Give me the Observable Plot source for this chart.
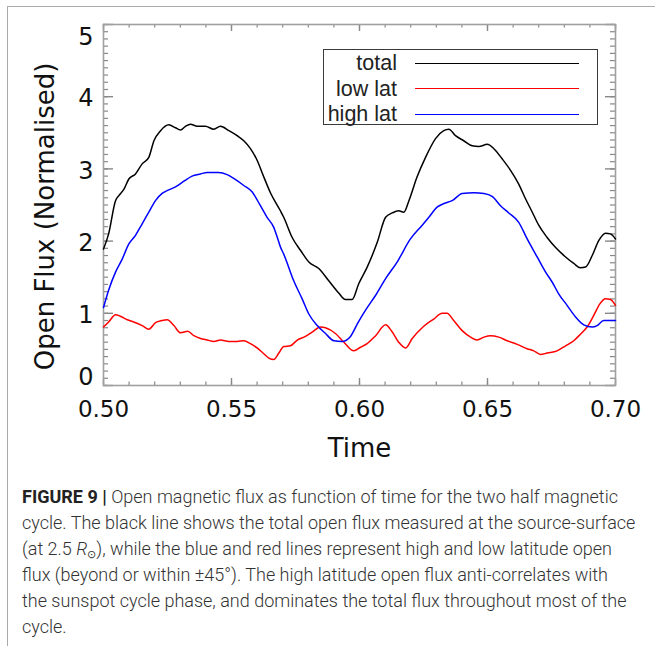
<!DOCTYPE html>
<html>
<head>
<meta charset="utf-8">
<script src="https://cdn.jsdelivr.net/npm/d3@7"></script>
<script src="https://cdn.jsdelivr.net/npm/@observablehq/plot@0.6"></script>
<style>
  html, body { margin: 0; padding: 0; background: #fff; }
  #page { position: relative; width: 655px; height: 646px; overflow: hidden; }
  #border { position: absolute; left: 7px; top: 6px; right: -10px; bottom: -10px;
            border-left: 1.5px solid #aaa; border-top: 1.5px solid #aaa; }
  #chart { position: absolute; left: 0; top: 0; }
  #legend { position: absolute; left: 323px; top: 49px; width: 275px; height: 76px;
            border-width: 1.5px; border-style: solid; border-color: #3a3a3a; box-sizing: border-box; background: transparent; }
  .lrow { position: absolute; left: 0; height: 24px; width: 100%; }
  .lname { position: absolute; right: 200px; top: 0; line-height: 24px; font-family: "Liberation Sans", Arial, sans-serif;
           font-size: 21.5px; color: #222; white-space: nowrap; }
  .lline { position: absolute; left: 91px; width: 164px; top: 11.5px; height: 1.3px; }
  #caption { position: absolute; left: 22px; top: 484px; font-family: "Roboto", "Liberation Sans", sans-serif;
             font-weight: 300; font-size: 18px; line-height: 26px; color: #333; white-space: nowrap; }
  #caption b { font-weight: 700; color: #222; }
  #caption sub { font-size: 11px; vertical-align: -3px; line-height: 0; }
</style>
</head>
<body>
<div id="page">
  <div id="border"></div>
  <div id="chart"></div>
  <div id="legend"></div>
  <div id="caption"></div>
</div>
<script>
// ---- data ----
const seriesNames = ["total", "low lat", "high lat"];
const seriesColors = ["#000000", "#ff0000", "#0000ff"];

const totalT = [0.5000,0.5020,0.5047,0.5060,0.5080,0.5099,0.5125,0.5151,0.5177,0.5197,0.5223,0.5255,0.5281,0.5301,0.5320,0.5340,0.5366,0.5398,0.5431,0.5457,0.5490,0.5522,0.5548,0.5574,0.5600,0.5626,0.5652,0.5691,0.5704,0.5737,0.5770,0.5802,0.5841,0.5880,0.5919,0.5945,0.5971,0.5997,0.6030,0.6069,0.6102,0.6128,0.6153,0.6173,0.6193,0.6225,0.6258,0.6297,0.6329,0.6349,0.6375,0.6407,0.6440,0.6466,0.6499,0.6525,0.6557,0.6590,0.6622,0.6648,0.6675,0.6700,0.6733,0.6766,0.6805,0.6837,0.6863,0.6883,0.6909,0.6935,0.6961,0.6980,0.7000];
const totalV = [1.89,2.10,2.56,2.63,2.72,2.86,2.93,3.07,3.16,3.39,3.53,3.61,3.57,3.54,3.59,3.62,3.59,3.59,3.55,3.59,3.53,3.46,3.39,3.28,3.12,2.89,2.67,2.42,2.33,2.05,1.87,1.71,1.62,1.45,1.28,1.19,1.19,1.41,1.64,1.98,2.33,2.39,2.42,2.40,2.56,2.89,3.16,3.42,3.53,3.55,3.46,3.39,3.32,3.31,3.34,3.28,3.14,2.98,2.79,2.59,2.40,2.22,2.05,1.91,1.78,1.69,1.63,1.64,1.80,2.01,2.11,2.10,2.03];

const lowT = [0.5000,0.5020,0.5047,0.5066,0.5093,0.5118,0.5151,0.5177,0.5203,0.5229,0.5249,0.5275,0.5301,0.5329,0.5353,0.5379,0.5405,0.5431,0.5457,0.5490,0.5522,0.5548,0.5574,0.5600,0.5626,0.5646,0.5665,0.5685,0.5704,0.5730,0.5757,0.5789,0.5815,0.5848,0.5867,0.5906,0.5939,0.5978,0.6004,0.6030,0.6063,0.6102,0.6128,0.6153,0.6180,0.6206,0.6251,0.6290,0.6323,0.6342,0.6368,0.6401,0.6434,0.6460,0.6486,0.6512,0.6544,0.6577,0.6616,0.6655,0.6681,0.6707,0.6733,0.6772,0.6805,0.6837,0.6863,0.6889,0.6915,0.6939,0.6961,0.6980,0.7000];
const lowV = [0.81,0.88,0.98,0.96,0.91,0.88,0.83,0.78,0.87,0.90,0.91,0.83,0.73,0.75,0.69,0.65,0.63,0.61,0.63,0.61,0.61,0.62,0.58,0.52,0.44,0.38,0.36,0.45,0.54,0.55,0.63,0.68,0.74,0.81,0.80,0.72,0.60,0.48,0.53,0.58,0.69,0.84,0.74,0.60,0.52,0.65,0.82,0.92,1.00,1.00,0.90,0.76,0.67,0.63,0.67,0.69,0.67,0.62,0.57,0.51,0.48,0.43,0.45,0.48,0.55,0.62,0.71,0.81,0.97,1.13,1.20,1.19,1.11];

const highT = [0.5000,0.5020,0.5047,0.5073,0.5099,0.5125,0.5151,0.5177,0.5203,0.5229,0.5255,0.5281,0.5314,0.5346,0.5379,0.5405,0.5450,0.5483,0.5516,0.5548,0.5581,0.5613,0.5639,0.5665,0.5679,0.5691,0.5704,0.5743,0.5776,0.5802,0.5835,0.5867,0.5900,0.5932,0.5965,0.5991,0.6023,0.6063,0.6102,0.6147,0.6199,0.6245,0.6271,0.6303,0.6330,0.6362,0.6401,0.6447,0.6486,0.6518,0.6551,0.6583,0.6622,0.6655,0.6694,0.6727,0.6753,0.6778,0.6811,0.6844,0.6876,0.6909,0.6928,0.6954,0.7000];
const highV = [1.08,1.32,1.57,1.75,1.96,2.08,2.24,2.40,2.56,2.66,2.71,2.75,2.83,2.90,2.93,2.95,2.95,2.92,2.85,2.77,2.68,2.49,2.33,2.19,2.05,1.92,1.82,1.45,1.20,0.99,0.83,0.72,0.62,0.61,0.68,0.85,1.04,1.25,1.48,1.71,2.03,2.22,2.33,2.47,2.52,2.56,2.66,2.67,2.66,2.62,2.49,2.39,2.26,2.03,1.78,1.57,1.43,1.27,1.11,0.95,0.84,0.81,0.83,0.90,0.90];

const xTickValues = [0.50, 0.55, 0.60, 0.65, 0.70];
const yTickValues = [0, 1, 2, 3, 4, 5];
const xLabel = "Time";
const yLabel = "Open Flux (Normalised)";

const captionLines = [
  "<b>FIGURE 9 |</b> Open magnetic flux as function of time for the two half magnetic",
  "cycle. The black line shows the total open flux measured at the source-surface",
  "(at 2.5 <i>R</i><sub>&#8857;</sub>), while the blue and red lines represent high and low latitude open",
  "flux (beyond or within \u00b145\u00b0). The high latitude open flux anti-correlates with",
  "the sunspot cycle phase, and dominates the total flux throughout most of the",
  "cycle."
];

// ---- build ----
const toRows = (T, V) => T.map((t, i) => ({t, v: V[i]}));
const series = [toRows(totalT, totalV), toRows(lowT, lowV), toRows(highT, highV)];

const W = 655, H = 470, mL = 103, mR = 40, mT = 24, mB = 85;
const plotW = W - mL - mR, plotH = H - mT - mB;
const xMinor = d3.range(0.50, 0.7001, 0.01);
const yMinor = d3.range(0, 5.0001, 0.1);
const tickColor = "#888";
const font = "DejaVu Sans";
const yFmt = d3.format("d");

const chart = Plot.plot({
  width: W, height: H,
  marginLeft: mL, marginRight: mR, marginTop: mT, marginBottom: mB,
  x: {domain: [0.5, 0.7]},
  y: {domain: [0, 5]},
  style: {background: "transparent", fontFamily: font, color: "#111"},
  marks: [
    // inward minor / major ticks on all four sides
    Plot.tickX(xMinor, {x: d => d, insetTop: plotH - 3.5, stroke: tickColor, strokeWidth: 1.2}),
    Plot.tickX(xTickValues, {x: d => d, insetTop: plotH - 7, stroke: tickColor, strokeWidth: 1.4}),
    Plot.tickX(xMinor, {x: d => d, insetBottom: plotH - 3.5, stroke: tickColor, strokeWidth: 1.2}),
    Plot.tickX(xTickValues, {x: d => d, insetBottom: plotH - 7, stroke: tickColor, strokeWidth: 1.4}),
    Plot.tickY(yMinor, {y: d => d, insetRight: plotW - 5, stroke: tickColor, strokeWidth: 1.2}),
    Plot.tickY(yTickValues, {y: d => d, insetRight: plotW - 10, stroke: tickColor, strokeWidth: 1.4}),
    Plot.tickY(yMinor, {y: d => d, insetLeft: plotW - 5, stroke: tickColor, strokeWidth: 1.2}),
    Plot.tickY(yTickValues, {y: d => d, insetLeft: plotW - 10, stroke: tickColor, strokeWidth: 1.4}),
    Plot.frame({stroke: "#a0a0a0", strokeWidth: 1.6}),
    // data lines
    ...series.map((rows, i) => Plot.line(rows, {x: "t", y: "v", stroke: seriesColors[i], strokeWidth: 1.5, curve: "monotone-x"})),
    // tick labels
    Plot.axisX(xTickValues, {tickSize: 0, tickPadding: 15, tickFormat: d3.format(".2f"), fontSize: 23, label: null}),
    Plot.axisY(yTickValues.filter(d => d > 0 && d < 5), {tickSize: 0, tickPadding: 10, tickFormat: yFmt, fontSize: 24, dy: 2, label: null}),
    Plot.axisY(yTickValues.filter(d => d === 0), {tickSize: 0, tickPadding: 10, tickFormat: yFmt, fontSize: 24, dy: -8, label: null}),
    Plot.axisY(yTickValues.filter(d => d === 5), {tickSize: 0, tickPadding: 10, tickFormat: yFmt, fontSize: 24, dy: 13, label: null}),
    // axis titles
    Plot.text([xLabel], {text: d => d, frameAnchor: "bottom", dy: 63, fontSize: 26, lineAnchor: "middle", textAnchor: "middle"}),
    Plot.text([yLabel], {text: d => d, frameAnchor: "left", rotate: -90, dx: -58, dy: 11.5, fontSize: 26, lineAnchor: "middle", textAnchor: "middle"})
  ]
});
document.getElementById("chart").appendChild(chart);

// legend (inside the plot area, as in the reference)
const legend = document.getElementById("legend");
seriesNames.forEach((name, i) => {
  const row = document.createElement("div");
  row.className = "lrow";
  row.style.top = (1 + i * 25.5) + "px";
  const lab = document.createElement("span");
  lab.className = "lname";
  lab.textContent = name;
  const ln = document.createElement("div");
  ln.className = "lline";
  ln.style.background = seriesColors[i];
  row.appendChild(lab); row.appendChild(ln);
  legend.appendChild(row);
});

document.getElementById("caption").innerHTML = captionLines.join("<br>");
</script>
</body>
</html>
